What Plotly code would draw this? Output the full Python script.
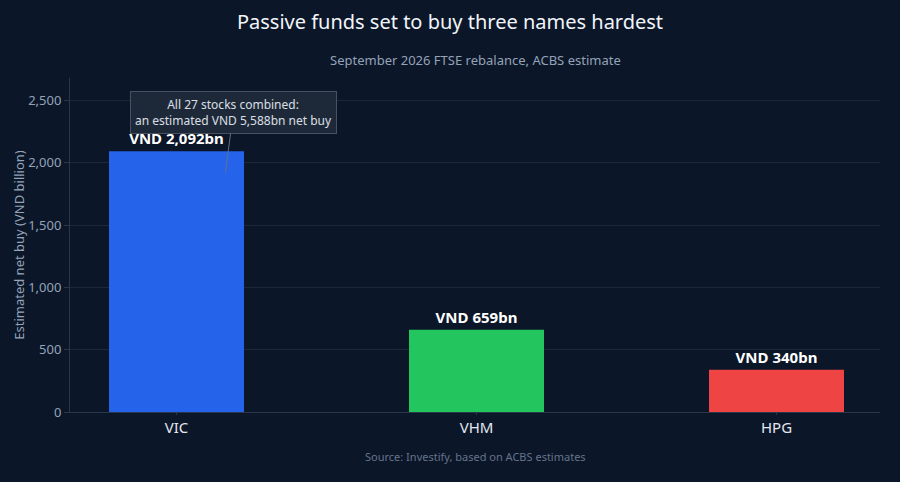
import plotly.graph_objects as go

tickers = ["VIC", "VHM", "HPG"]
net_buy = [2092, 659, 340]
bar_labels = ["VND 2,092bn", "VND 659bn", "VND 340bn"]
bar_colors = ["#2563eb", "#22c55e", "#ef4444"]

bg = "#0b1628"
font = "Noto Sans"

fig = go.Figure(go.Bar(
    x=tickers, y=net_buy, width=0.45,
    marker=dict(color=bar_colors, line=dict(width=0)),
    text=bar_labels, textposition="outside", cliponaxis=False,
    textfont=dict(family=font, size=15, color="#ffffff", weight="bold"),
    hoverinfo="skip",
))

fig.update_layout(
    width=900, height=482,
    paper_bgcolor=bg, plot_bgcolor=bg,
    margin=dict(l=70, r=20, t=78, b=70),
    font=dict(family=font, color="#94a3b8"),
    showlegend=False,
    title=dict(text="Passive funds set to buy three names hardest",
               x=0.5, xanchor="center", y=0.955, yanchor="middle",
               font=dict(family=font, size=20, color="#f1f5f9")),
    xaxis=dict(range=[-0.355, 2.345], showgrid=False,
               showline=True, linecolor="#2a3649", linewidth=1,
               ticks="outside", ticklen=2, tickcolor="#2a3649",
               tickfont=dict(family=font, size=15, color="#e2e8f0")),
    yaxis=dict(range=[0, 2680], dtick=500, tickformat=",",
               gridcolor="#1c2738", gridwidth=1, zeroline=False,
               showline=True, linecolor="#2a3649", linewidth=1,
               ticks="outside", ticklen=5, tickcolor="#2a3649",
               tickfont=dict(family=font, size=13, color="#94a3b8"),
               title=dict(text="Estimated net buy (VND billion)",
                          font=dict(family=font, size=13, color="#94a3b8"),
                          standoff=0)),
)

fig.add_annotation(text="September 2026 FTSE rebalance, ACBS estimate",
                   xref="paper", yref="paper", x=0.5, y=1.0, yshift=18,
                   showarrow=False, yanchor="middle",
                   font=dict(family=font, size=13, color="#94a3b8"))

fig.add_annotation(text="Source: Investify, based on ACBS estimates",
                   xref="paper", yref="paper", x=0.5, y=0, yshift=-44,
                   showarrow=False, yanchor="middle",
                   font=dict(family=font, size=11, color="#64748b"))

fig.add_annotation(text="All 27 stocks combined:<br>an estimated VND 5,588bn net buy",
                   x=0.163, y=1923, xref="x", yref="y",
                   showarrow=True, arrowhead=0, arrowwidth=1, arrowcolor="#64748b",
                   ax=8, ay=-60,
                   bgcolor="#1f2a3a", bordercolor="#4b5563", borderwidth=1, borderpad=4,
                   opacity=0.95,
                   font=dict(family=font, size=12, color="#e2e8f0"))

fig.write_html("out.html", config={"displayModeBar": False},
               post_script="document.body.style.margin='0';")
